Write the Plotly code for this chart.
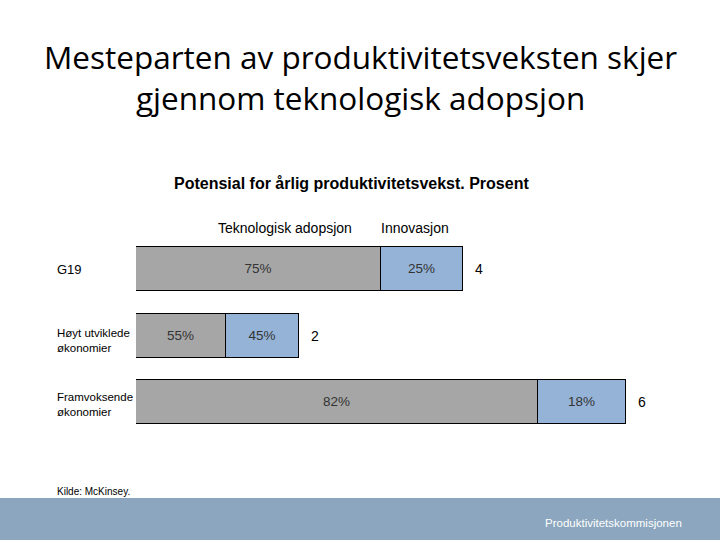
import plotly.graph_objects as go

categories = ["G19", "Høyt utviklede<br>økonomier", "Framvoksende<br>økonomier"]
category_font_sizes = [13, 11.5, 11.5]
category_yshift = [0, -5, -2]
totals = [4, 2, 6]
share_tech = [75, 55, 82]
share_innov = [25, 45, 18]
series_names = ["Teknologisk adopsjon", "Innovasjon"]

W, H = 720, 540
ids = [0, 1, 2]
tech_vals = [t * s / 100 for t, s in zip(totals, share_tech)]
innov_vals = [t * s / 100 for t, s in zip(totals, share_innov)]

fig = go.Figure()
bar_common = dict(orientation="h", width=0.66, textposition="inside",
                  insidetextanchor="middle",
                  textfont=dict(family="Liberation Sans, Arial", size=13.5, color="#333333"),
                  marker_line=dict(color="#000000", width=1), showlegend=False,
                  hoverinfo="skip")
fig.add_trace(go.Bar(y=ids, x=tech_vals, name=series_names[0],
                     text=[f"{v}%" for v in share_tech],
                     marker_color="#A6A6A6", **bar_common))
fig.add_trace(go.Bar(y=ids, x=innov_vals, name=series_names[1],
                     text=[f"{v}%" for v in share_innov],
                     marker_color="#95B3D7", **bar_common))

x0_px, unit_px = 136, 81.7
xmax = 7
fig.update_layout(
    width=W, height=H, margin=dict(l=0, r=0, t=0, b=0),
    paper_bgcolor="white", plot_bgcolor="white", barmode="stack", bargap=0,
    xaxis=dict(range=[0, xmax], domain=[x0_px / W, (x0_px + xmax * unit_px) / W],
               visible=False, fixedrange=True),
    yaxis=dict(range=[2.5, -0.5], domain=[1 - 435.25 / H, 1 - 235.75 / H],
               visible=False, fixedrange=True),
)

ann = []
# Title
ann.append(dict(text="Mesteparten av produktivitetsveksten skjer<br>gjennom teknologisk adopsjon",
                x=0.5, y=1 - 77 / H, xref="paper", yref="paper", showarrow=False,
                xanchor="center", yanchor="middle",
                font=dict(family="Open Sans", size=31.5, color="#000000")))
ann.append(dict(text="<b>Potensial for årlig produktivitetsvekst. Prosent</b>",
                x=351 / W, y=1 - 183 / H, xref="paper", yref="paper", showarrow=False,
                xanchor="center", yanchor="middle",
                font=dict(family="Liberation Sans, Arial", size=16, color="#000000")))
# Series headers
ann.append(dict(text=series_names[0], x=285 / W, y=1 - 228 / H, xref="paper", yref="paper",
                showarrow=False, xanchor="center", yanchor="middle",
                font=dict(family="Liberation Sans, Arial", size=14, color="#000000")))
ann.append(dict(text=series_names[1], x=415 / W, y=1 - 228 / H, xref="paper", yref="paper",
                showarrow=False, xanchor="center", yanchor="middle",
                font=dict(family="Liberation Sans, Arial", size=14, color="#000000")))
# Totals
for i, t in zip(ids, totals):
    ann.append(dict(text=str(t), x=t, y=i, xref="x", yref="y", showarrow=False,
                    xanchor="left", yanchor="middle", xshift=10,
                    font=dict(family="Liberation Sans, Arial", size=14, color="#000000")))
# Category labels
for i, c, fs, ys in zip(ids, categories, category_font_sizes, category_yshift):
    ann.append(dict(text=c, x=55 / W, y=i, xref="paper", yref="y", showarrow=False,
                    xanchor="left", yanchor="middle", align="left", yshift=ys,
                    font=dict(family="Liberation Sans, Arial", size=fs, color="#000000")))
# Source
ann.append(dict(text="Kilde: McKinsey.", x=55 / W, y=1 - 491 / H, xref="paper", yref="paper",
                showarrow=False, xanchor="left", yanchor="middle",
                font=dict(family="Liberation Sans, Arial", size=10, color="#000000")))
ann.append(dict(text="Produktivitetskommisjonen", x=684 / W, y=1 - 523 / H, xref="paper",
                yref="paper", showarrow=False, xanchor="right", yanchor="middle",
                font=dict(family="Liberation Sans, Arial", size=11.5, color="#FFFFFF")))
fig.update_layout(annotations=ann)

fig.add_shape(type="rect", xref="paper", yref="paper", x0=0, x1=1, y0=0, y1=1 - 498 / H,
              fillcolor="#8BA6BE", line=dict(width=0), layer="below")

fig.write_html("out.html", config={"displayModeBar": False},
               post_script="document.body.style.margin='0';document.body.style.overflow='hidden';")
